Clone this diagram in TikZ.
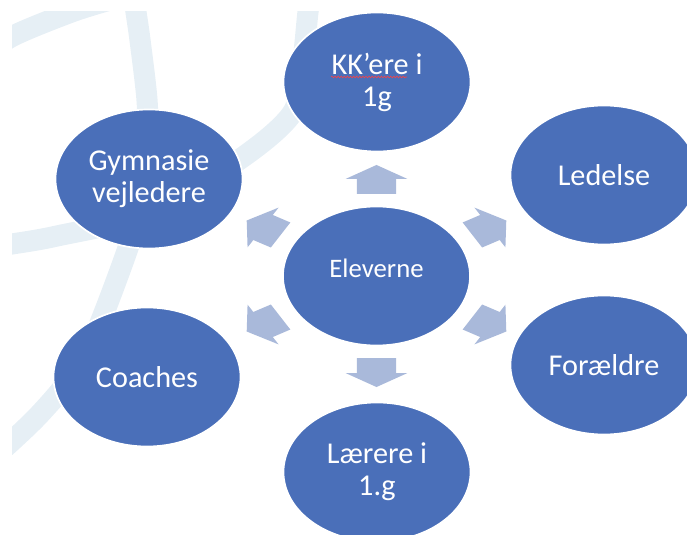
\documentclass[tikz,border=0pt]{standalone}
\usepackage{fontspec}
\setmainfont{Carlito}
\usetikzlibrary{shapes.geometric,calc,decorations.pathmorphing}
\definecolor{blaa}{HTML}{4A6FB9}
\definecolor{pilfarve}{HTML}{A9B9DA}
\definecolor{buefarve}{HTML}{E6EFF5}
\tikzset{
  rund/.style={ellipse, fill=blaa, draw=white, line width=1.2pt, inner sep=0pt,
    minimum width=4.675cm, minimum height=3.475cm, text=white, align=center,
    font=\fontsize{21.5pt}{22.7pt}\selectfont},
  pil/.style={fill=pilfarve},
  bue/.style={draw=buefarve, line width=15pt},
  krus/.style={draw=red!75, line width=0.4pt, decorate,
    decoration={snake, amplitude=0.6pt, segment length=2.2pt}}
}
\begin{document}
\begin{tikzpicture}[x=0.025cm, y=0.025cm]
    \useasboundingbox (0,0) rectangle (687,535);
    %% Background arcs
    \begin{scope}
        \clip (12,0) rectangle (687,523);
        \draw[bue] plot[smooth] coordinates {(-20,475) (12,498.5) (71.5,523) (110,535)};
        \draw[bue] plot[smooth] coordinates {(133,545) (136,523) (140,495) (147,435) (148,385)
            (142,335) (128,287) (104,222) (88,185) (65,150) (38,119) (12,94) (-15,70)};
        \draw[bue] plot[smooth] coordinates {(312,545) (308,523) (303,475) (293,423) (243,378)
            (150,322) (57,299) (12,291) (-15,287)};
    \end{scope}
    %% Arrows
    \coordinate (midt) at (376.5,259);
    \begin{scope}[shift={(midt)}, xscale=1.35]
        \foreach \vinkel in {90,30,-30,-90,-150,150}
            \fill[pil, rotate=\vinkel, xshift=2.4125cm]
                (-14.5,-14.45) -- (0.5,-14.45) -- (0.5,-22.95) -- (14.5,0)
                -- (0.5,22.95) -- (0.5,14.45) -- (-14.5,14.45) -- cycle;
    \end{scope}
    %% Circles
    \node[rund] (elev) at (midt) {\fontsize{19pt}{22pt}\selectfont\raisebox{-1.4pt}[0pt][0pt]{Eleverne}};
    \node[rund] (kk) at (377,453) {KK’ere i\\1g};
    \node[rund] (laer) at (377,63) {Lærere i\\1.g};
    \node[rund] (led) at (604,360) {Ledelse};
    \node[rund] (foraeld) at (604,170) {Forældre};
    \node[rund] (gym) at (149,356) {Gymnasie\\vejledere};
    \node[rund] (coach) at (147,158) {Coaches};
    %% Spelling mark
    \draw[krus] ($(kk.center)+(-46,5)$) -- ($(kk.center)+(30,5)$);
\end{tikzpicture}
\end{document}
